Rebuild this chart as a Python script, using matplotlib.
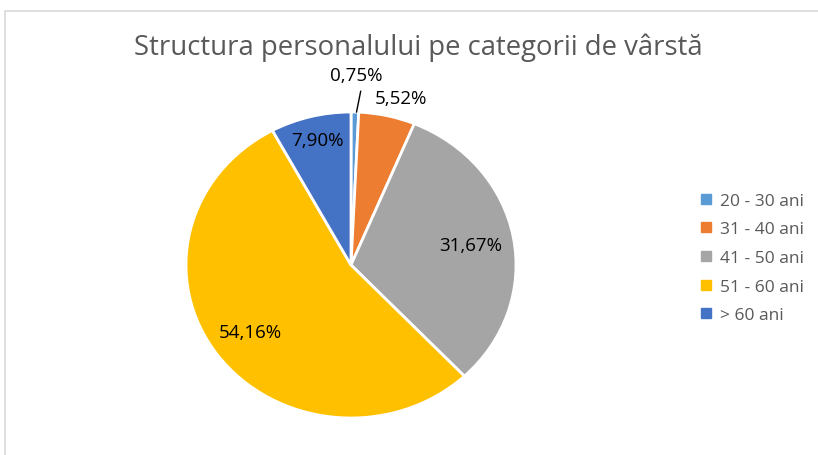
import matplotlib
matplotlib.use("Agg")
import matplotlib.pyplot as plt
from matplotlib.patches import Rectangle
from matplotlib.lines import Line2D
import numpy as np

categories = ["20 - 30 ani", "31 - 40 ani", "41 - 50 ani", "51 - 60 ani", "> 60 ani"]
values = [0.75, 5.52, 31.67, 54.16, 7.90]
labels = ["0,75%", "5,52%", "31,67%", "54,16%", "7,90%"]
colors = ["#5B9BD5", "#ED7D31", "#A5A5A5", "#FFC000", "#4472C4"]
label_r = [1.24, 1.12, 0.74, 0.75, 0.84]

W, H = 818, 456
fig = plt.figure(figsize=(W / 100, H / 100), dpi=100)
font = "Open Sans"

# frame border (extends beyond right/bottom)
fig.patches.append(Rectangle((5 / W, -0.1), 2.0, (H - 12) / H + 0.1, transform=fig.transFigure,
                             fill=False, edgecolor="#D9D9D9", linewidth=1.2))

# pie axes, slightly stretched horizontally as in reference
cx, cy, rx, ry = 351, 266, 165, 153
ax = fig.add_axes([(cx - rx) / W, (H - cy - ry) / H, 2 * rx / W, 2 * ry / H])
wedges, _ = ax.pie(values, colors=colors, startangle=90, counterclock=False,
                   wedgeprops=dict(edgecolor="white", linewidth=2))
ax.set_aspect("auto")
ax.set_xlim(-1, 1)
ax.set_ylim(-1, 1)
ax.axis("off")

for w, lab, r in zip(wedges, labels, label_r):
    ang = np.deg2rad((w.theta1 + w.theta2) / 2)
    x, y = r * np.cos(ang), r * np.sin(ang)
    if lab == "5,52%":
        x += 0.06
    ax.text(x, y, lab, ha="center", va="center", fontsize=13.5, family=font, color="black",
            clip_on=False)
    if r > 1.2:
        ax.plot([np.cos(ang) * 1.0 + 0.01, np.cos(ang) * 1.0 + 0.035], [1.0, 1.135],
                color="black", lw=1, clip_on=False)

fig.text(418 / W, 1 - 48 / H, "Structura personalului pe categorii de vârstă",
         ha="center", va="center", fontsize=19.8, family=font, color="#595959")

handles = [Line2D([0], [0], marker="s", linestyle="none", markersize=7.5,
                  markerfacecolor=c, markeredgecolor=c) for c in colors]
fig.legend(handles, categories, loc="upper left", bbox_to_anchor=(680 / W, 1 - 178 / H),
           frameon=False, handletextpad=0.2, handlelength=1.2, labelspacing=0.72,
           prop=dict(family=font, size=12.5), labelcolor="#595959")

fig.savefig("out.png", dpi=100)
